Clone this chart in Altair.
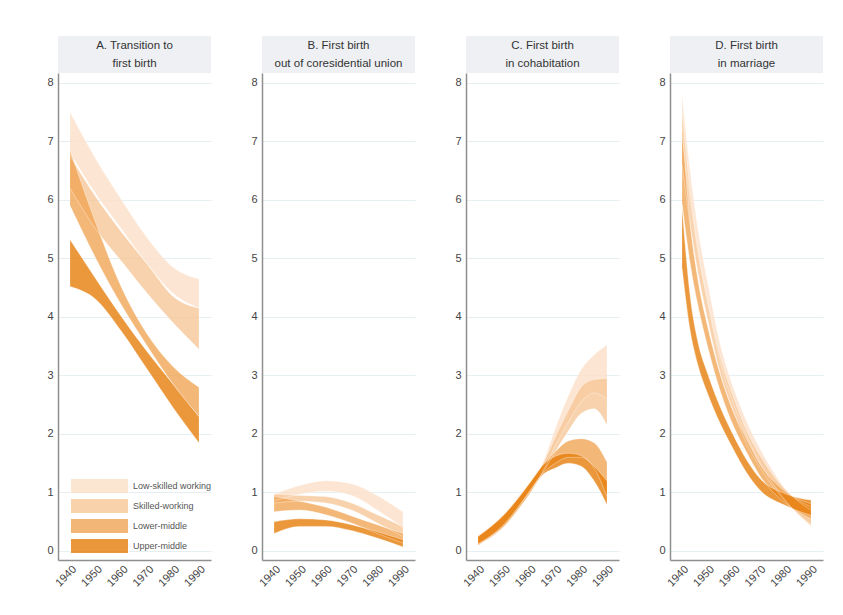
import altair as alt
import pandas as pd

FONT = "Liberation Sans"
GROUPS = ["Low-skilled working", "Skilled-working", "Lower-middle", "Upper-middle"]
COLORS = ["#fbe0c8", "#f6c797", "#f0a555", "#e67d0a"]
BAND_OPACITY = 0.8

TITLES = [
    ["A. Transition to", "first birth"],
    ["B. First birth", "out of coresidential union"],
    ["C. First birth", "in cohabitation"],
    ["D. First birth", "in marriage"],
]

X_TICKS = [1940, 1950, 1960, 1970, 1980, 1990]
Y_TICKS = [0, 1, 2, 3, 4, 5, 6, 7, 8]

# ---- Panel A: Transition to first birth ----
A_YEARS = [1940, 1950, 1960, 1970, 1980, 1990]
A_LSW_LO = [6.80, 6.10, 5.50, 4.90, 4.40, 4.15]
A_LSW_HI = [7.50, 6.70, 6.00, 5.35, 4.85, 4.65]
A_SW_LO = [6.20, 5.50, 4.95, 4.40, 3.90, 3.45]
A_SW_HI = [6.75, 6.05, 5.45, 4.90, 4.35, 4.15]
A_LM_LO = [5.90, 5.00, 4.20, 3.50, 2.85, 2.30]
A_LM_HI = [6.85, 5.60, 4.50, 3.70, 3.15, 2.80]
A_UM_LO = [4.52, 4.30, 3.75, 3.10, 2.45, 1.85]
A_UM_HI = [5.32, 4.65, 4.00, 3.40, 2.85, 2.30]

# ---- Panel B: First birth out of coresidential union ----
B_YEARS = [1940, 1950, 1960, 1970, 1980, 1990]
B_LSW_LO = [0.86, 0.97, 1.02, 0.95, 0.70, 0.40]
B_LSW_HI = [0.97, 1.12, 1.20, 1.15, 0.95, 0.67]
B_SW_LO = [0.82, 0.85, 0.82, 0.70, 0.48, 0.25]
B_SW_HI = [0.97, 0.95, 0.93, 0.82, 0.62, 0.42]
B_LM_LO = [0.67, 0.70, 0.62, 0.48, 0.30, 0.14]
B_LM_HI = [0.93, 0.85, 0.75, 0.60, 0.45, 0.30]
B_UM_LO = [0.30, 0.42, 0.42, 0.35, 0.22, 0.07]
B_UM_HI = [0.50, 0.55, 0.53, 0.45, 0.33, 0.19]

# ---- Panel C: First birth in cohabitation ----
C_YEARS = [1940, 1950, 1960, 1965, 1970, 1975, 1980, 1985, 1990]
C_LSW_LO = [0.10, 0.45, 1.02, 1.35, 1.80, 2.20, 2.55, 2.70, 2.60]
C_LSW_HI = [0.27, 0.62, 1.17, 1.50, 2.10, 2.65, 3.10, 3.35, 3.52]
C_SW_LO = [0.12, 0.45, 1.02, 1.33, 1.70, 2.05, 2.35, 2.43, 2.15]
C_SW_HI = [0.26, 0.62, 1.17, 1.48, 1.95, 2.40, 2.80, 2.93, 2.95]
C_LM_LO = [0.12, 0.43, 1.00, 1.32, 1.50, 1.60, 1.60, 1.42, 0.93]
C_LM_HI = [0.25, 0.63, 1.17, 1.47, 1.70, 1.88, 1.92, 1.85, 1.52]
C_UM_LO = [0.10, 0.42, 0.98, 1.30, 1.42, 1.50, 1.45, 1.20, 0.79]
C_UM_HI = [0.25, 0.62, 1.16, 1.46, 1.62, 1.67, 1.63, 1.45, 1.20]

# ---- Panel D: First birth in marriage ----
D_YEARS = [1940, 1943, 1946, 1950, 1955, 1960, 1965, 1970, 1980, 1990]
D_LSW_LO = [7.10, 6.05, 5.15, 4.23, 3.20, 2.52, 1.98, 1.53, 0.87, 0.42]
D_LSW_HI = [7.80, 6.55, 5.55, 4.57, 3.50, 2.78, 2.22, 1.77, 1.07, 0.70]
D_SW_LO = [6.60, 5.62, 4.80, 3.94, 3.01, 2.38, 1.84, 1.45, 0.85, 0.45]
D_SW_HI = [7.50, 6.18, 5.20, 4.26, 3.29, 2.62, 2.06, 1.65, 1.05, 0.75]
D_LM_LO = [5.93, 4.95, 4.23, 3.48, 2.71, 2.13, 1.69, 1.30, 0.82, 0.55]
D_LM_HI = [7.27, 5.65, 4.67, 3.82, 2.99, 2.37, 1.91, 1.50, 1.02, 0.81]
D_UM_LO = [4.83, 3.80, 3.20, 2.68, 2.16, 1.73, 1.34, 1.05, 0.78, 0.61]
D_UM_HI = [5.87, 4.40, 3.60, 3.02, 2.44, 1.97, 1.56, 1.25, 0.98, 0.87]

PANELS = [
    (A_YEARS, [(A_LSW_LO, A_LSW_HI), (A_SW_LO, A_SW_HI), (A_LM_LO, A_LM_HI), (A_UM_LO, A_UM_HI)]),
    (B_YEARS, [(B_LSW_LO, B_LSW_HI), (B_SW_LO, B_SW_HI), (B_LM_LO, B_LM_HI), (B_UM_LO, B_UM_HI)]),
    (C_YEARS, [(C_LSW_LO, C_LSW_HI), (C_SW_LO, C_SW_HI), (C_LM_LO, C_LM_HI), (C_UM_LO, C_UM_HI)]),
    (D_YEARS, [(D_LSW_LO, D_LSW_HI), (D_SW_LO, D_SW_HI), (D_LM_LO, D_LM_HI), (D_UM_LO, D_UM_HI)]),
]

W = 153
PH = 487
TH = 37

X_AXIS = alt.Axis(values=X_TICKS, labelAngle=-45, title=None, grid=False,
                  ticks=False, format="d", labelPadding=3, labelOverlap=False)
Y_AXIS = alt.Axis(values=Y_TICKS, title=None, grid=True, ticks=False,
                  labelPadding=5, format="d")
X_SCALE = alt.Scale(domain=[1935.3, 1994.7], nice=False, zero=False)
Y_SCALE = alt.Scale(domain=[-0.154, 8.17], nice=False, zero=False)


def make_df(years, bands):
    rows = []
    for gi, (lo, hi) in enumerate(bands):
        for yr, a, b in zip(years, lo, hi):
            rows.append({"year": yr, "group": GROUPS[gi], "gi": gi, "lo": a, "hi": b})
    return pd.DataFrame(rows)


def plot_panel(i, years, bands):
    df = make_df(years, bands)
    if i == 0:
        legend = alt.Legend(
            orient="none", legendX=33.5, legendY=405, title=None, padding=0,
            symbolType="M-3.867,-1L3.867,-1L3.867,1L-3.867,1Z", symbolSize=225,
            symbolStrokeColor="white", symbolStrokeWidth=1,
            labelFontSize=9, labelColor="#555", labelFont=FONT, labelOffset=25.5,
            rowPadding=0,
        )
    else:
        legend = None
    area = alt.Chart(df).mark_area(interpolate="monotone", opacity=BAND_OPACITY).encode(
        x=alt.X("year:Q", scale=X_SCALE, axis=X_AXIS),
        y=alt.Y("lo:Q", stack=None, scale=Y_SCALE, axis=Y_AXIS),
        y2="hi:Q",
        color=alt.Color("group:N", scale=alt.Scale(domain=GROUPS, range=COLORS), legend=legend),
    )
    edges = alt.Chart(df).transform_fold(["lo", "hi"], as_=["edge", "val"]).mark_line(
        interpolate="monotone", color="white", strokeWidth=0.7, opacity=0.5
    ).encode(
        x=alt.X("year:Q", scale=X_SCALE, axis=X_AXIS),
        y=alt.Y("val:Q", scale=Y_SCALE, axis=Y_AXIS),
        detail=["group:N", "edge:N"],
    )
    return alt.layer(area, edges).properties(width=W, height=PH)


def title_panel(i):
    return alt.Chart(alt.Data(values=[{"k": 0}])).mark_text(
        fontSize=11.5, lineHeight=18, color="#333", font=FONT,
        baseline="middle", align="center",
    ).encode(
        text=alt.value(TITLES[i]), x=alt.value(W / 2), y=alt.value(TH / 2 - 8.5),
    ).properties(width=W, height=TH, view=alt.ViewBackground(fill="#eef0f4", stroke=None))


titles = [title_panel(i) for i in range(4)]
plots = [plot_panel(i, years, bands) for i, (years, bands) in enumerate(PANELS)]

chart = alt.concat(
    *titles, *plots, columns=4, spacing={"row": 0, "column": 51}, bounds="flush"
).resolve_legend(
    color="independent"
).properties(
    padding={"left": 38, "top": 28, "right": 5, "bottom": 5}
).configure_view(stroke=None).configure_axis(
    labelFont=FONT, labelFontSize=11, labelColor="#444",
    domainColor="#8f8f8f", domainWidth=1.5, gridColor="#e5eef0", gridWidth=1,
)

chart.save("out.html", embed_options={"renderer": "svg", "actions": False})
